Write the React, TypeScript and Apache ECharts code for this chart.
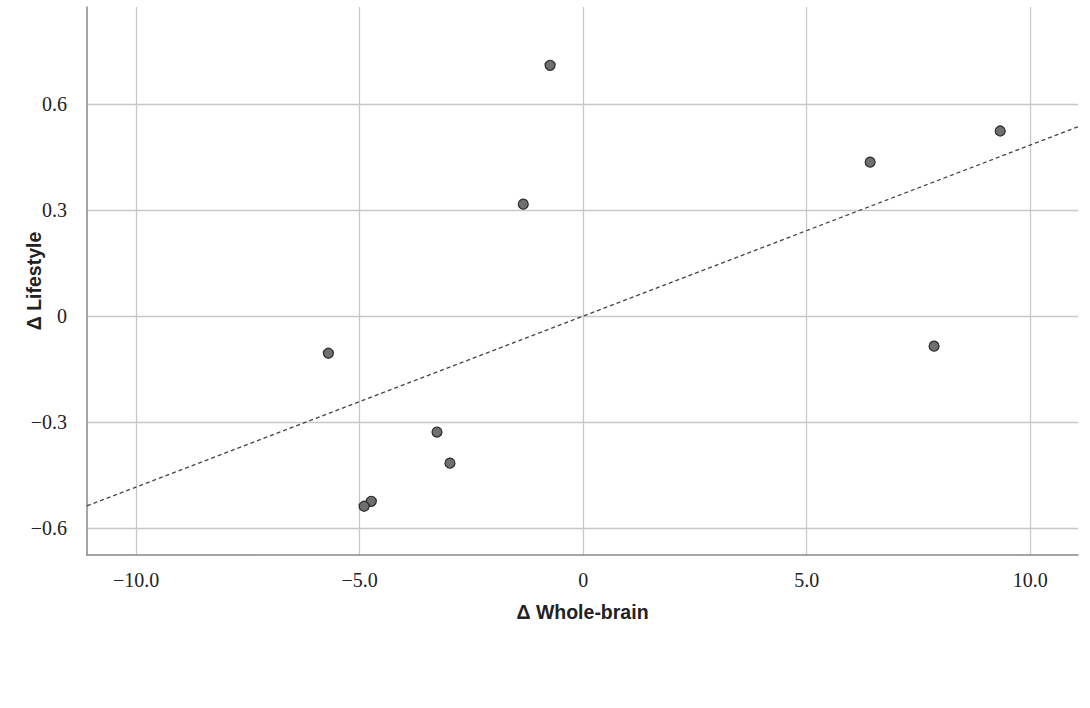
import React, { useEffect, useRef } from "react";
import * as echarts from "echarts";

const wholeBrain = [-0.74, -1.34, 6.42, 9.33, 7.85, -5.7, -3.27, -2.98, -4.74, -4.9];
const lifestyle = [0.71, 0.317, 0.436, 0.524, -0.085, -0.105, -0.328, -0.416, -0.524, -0.538];
const trendX = [-11.1, 11.07];
const trendY = [-0.537, 0.536];
const xTicks = [-10, -5, 0, 5, 10];
const yTicks = [-0.6, -0.3, 0, 0.3, 0.6];
const xTitle = "Δ Whole-brain";
const yTitle = "Δ Lifestyle";

const fmt = (v: number) => {
  if (Math.abs(v) < 1e-9) return "0";
  const s = Math.abs(v).toFixed(1);
  return v < 0 ? "\u2212" + s : s;
};

export default function App() {
  const ref = useRef<HTMLDivElement>(null);
  useEffect(() => {
    if (!ref.current) return;
    const chart = echarts.init(ref.current, null, { renderer: "svg" });
    const labelStyle = { fontFamily: "Liberation Serif", fontSize: 20, color: "#222" };
    const nameStyle = { fontFamily: "Liberation Sans", fontWeight: "bold", fontSize: 19.5, color: "#222" };
    chart.setOption({
      animation: false,
      backgroundColor: "#fff",
      grid: { left: 87, right: 12, top: 7, bottom: 153 },
      xAxis: {
        type: "value",
        min: -11.1,
        max: 11.07,
        name: xTitle,
        nameLocation: "middle",
        nameGap: 47,
        nameMoveOverlap: false,
        nameTextStyle: nameStyle,
        axisLine: { show: true, onZero: false, lineStyle: { color: "#888", width: 1.5 } },
        axisTick: { show: false, customValues: xTicks },
        axisLabel: { ...labelStyle, margin: 15, customValues: xTicks, formatter: (v: number) => fmt(v) },
        splitLine: { show: true, lineStyle: { color: "#c8c8c8", width: 1.3 } },
      },
      yAxis: {
        type: "value",
        min: -0.676,
        max: 0.875,
        name: yTitle,
        nameLocation: "middle",
        nameGap: 43,
        nameRotate: 90,
        nameMoveOverlap: false,
        nameTextStyle: nameStyle,
        axisLine: { show: true, onZero: false, lineStyle: { color: "#888", width: 1.5 } },
        axisTick: { show: false, customValues: yTicks },
        axisLabel: { ...labelStyle, margin: 20, customValues: yTicks, formatter: (v: number) => fmt(v) },
        splitLine: { show: true, lineStyle: { color: "#c8c8c8", width: 1.3 } },
      },
      series: [
        {
          type: "line",
          data: trendX.map((x, i) => [x, trendY[i]]),
          symbol: "none",
          lineStyle: { type: [4, 3], color: "#444", width: 1.3 },
          z: 2,
        },
        {
          type: "scatter",
          data: wholeBrain.map((x, i) => [x, lifestyle[i]]),
          symbolSize: 10,
          itemStyle: { color: "#6f6f6f", borderColor: "#2a2a2a", borderWidth: 1.2, opacity: 1 },
          z: 3,
        },
      ],
    });
    return () => chart.dispose();
  }, []);
  return <div ref={ref} style={{ width: 1090, height: 708, position: "absolute", left: 0, top: 0 }} />;
}
